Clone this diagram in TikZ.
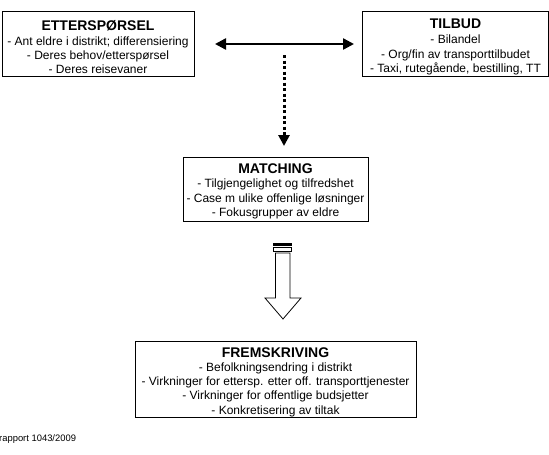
\documentclass[tikz,border=0pt]{standalone}
\usepackage{fontspec}
\setmainfont{Liberation Sans}
\usetikzlibrary{arrows.meta}
\begin{document}
\begin{tikzpicture}[x=1pt,y=-1pt,
  box/.style={draw, line width=0.9pt, inner sep=0pt},
  boxtxt/.style={inner sep=0pt, align=center, font=\fontsize{12}{14.3}\selectfont}]
\newcommand\bxtitle[1]{{\fontsize{14}{15}\selectfont\bfseries #1}}
\useasboundingbox (0,0) rectangle (549,455);
% boxes
\node[box, minimum width=192, minimum height=65] (ett) at (98,43.5) {};
\node[boxtxt] (ett-t) at ([yshift=-3.5pt]ett.center)
  {\bxtitle{ETTERSPØRSEL}\\[0.8pt]- Ant eldre i distrikt; differensiering\\- Deres behov/etterspørsel\\- Deres reisevaner};
\node[box, minimum width=186, minimum height=65] (til) at (455.5,43.5) {};
\node[boxtxt] (til-t) at ([yshift=-3.5pt]til.center)
  {\bxtitle{TILBUD}\\[0.8pt]- Bilandel\\- Org/fin av transporttilbudet\\- Taxi, rutegående, bestilling, TT};
\node[box, minimum width=185, minimum height=64] (mat) at (275.5,189) {};
\node[boxtxt] (mat-t) at ([yshift=-2.5pt]mat.center)
  {\bxtitle{MATCHING}\\- Tilgjengelighet og tilfredshet\\- Case m ulike offenlige løsninger\\- Fokusgrupper av eldre};
\node[box, minimum width=281, minimum height=76] (fre) at (275.5,379) {};
\node[boxtxt] (fre-t) at ([yshift=-3pt]fre.center)
  {\bxtitle{FREMSKRIVING}\\- Befolkningsendring i distrikt\\- Virkninger for ettersp. etter off. transporttjenester\\- Virkninger for offentlige budsjetter\\- Konkretisering av tiltak};
% double arrow
\coordinate (da1) at (215,44);
\coordinate (da2) at (354,44);
\draw[line width=2.4pt, {Triangle[length=11pt,width=11pt]}-{Triangle[length=11pt,width=11pt]}] (da1) -- (da2);
% dotted arrow
\coordinate (dt1) at (284,55);
\coordinate (dt2) at (284,146);
\draw[line width=3pt, dash pattern=on 3pt off 2.5pt, -{Triangle[length=11pt,width=11pt]}] (dt1) -- (dt2);
% hollow block arrow
\fill (273,242.5) rectangle (292,245.8);
\draw[line width=0.8pt] (273.5,247.5) rectangle (291.5,251.5);
\draw[line width=0.8pt, fill=white] (275.5,253) -- (290,253) -- (290,298) -- (301,298) -- (283,319) -- (265,298) -- (275.5,298) -- cycle;
% footer
\node[anchor=base west, inner sep=0pt, font=\fontsize{9.4}{10}\selectfont] (foot) at (-1,441) {rapport 1043/2009};
\end{tikzpicture}
\end{document}
